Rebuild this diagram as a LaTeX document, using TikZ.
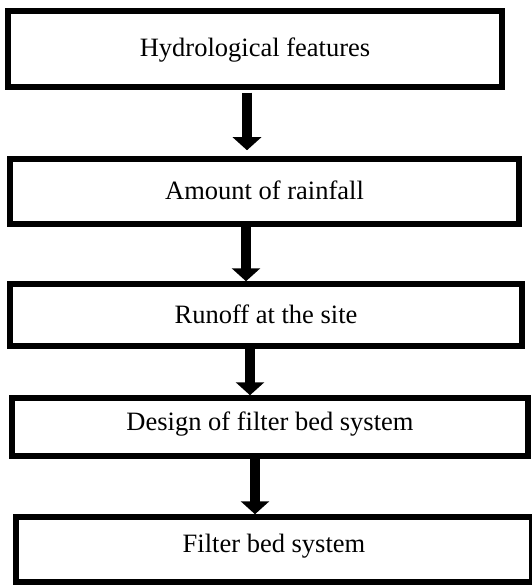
\documentclass[tikz,border=0pt]{standalone}
\usepackage{fontspec}
\setmainfont{Liberation Serif}
\usetikzlibrary{arrows.meta}
\begin{document}
\begin{tikzpicture}[x=1pt,y=-1pt,
  stepbox/.style={draw=black, line width=5.5pt, inner sep=0pt, align=center,
    font=\fontsize{26.5}{30}\selectfont},
  upper/.style={text height=18pt, text depth=2pt},
  lower/.style={text height=18pt, text depth=12pt},
  flow/.style={draw=black, line width=10pt, -{Triangle[width=28pt,length=13pt]}}]
\useasboundingbox (0,0) rectangle (531,585);
\fill[white] (0,0) rectangle (531,585);
\node[stepbox, upper, minimum width=494pt, minimum height=76pt] (b1) at (255,49) {Hydrological features};
\node[stepbox, upper, minimum width=509pt, minimum height=65pt] (b2) at (264.5,191.5) {Amount of rainfall};
\node[stepbox, upper, minimum width=512pt, minimum height=62pt] (b3) at (266,315) {Runoff at the site};
\node[stepbox, lower, minimum width=516pt, minimum height=58pt] (b4) at (270,427) {Design of filter bed system};
\node[stepbox, lower, minimum width=516pt, minimum height=65pt] (b5) at (274,549.5) {Filter bed system};
\coordinate (x1) at (247,0);
\coordinate (x2) at (246,0);
\coordinate (x3) at (250,0);
\coordinate (x4) at (255,0);
\draw[flow, shorten <=3pt, shorten >=6pt] (b1.south -| x1) -- (b2.north -| x1);
\draw[flow] (b2.south -| x2) -- (b3.north -| x2);
\draw[flow] (b3.south -| x3) -- (b4.north -| x3);
\draw[flow] (b4.south -| x4) -- (b5.north -| x4);
\end{tikzpicture}
\end{document}
